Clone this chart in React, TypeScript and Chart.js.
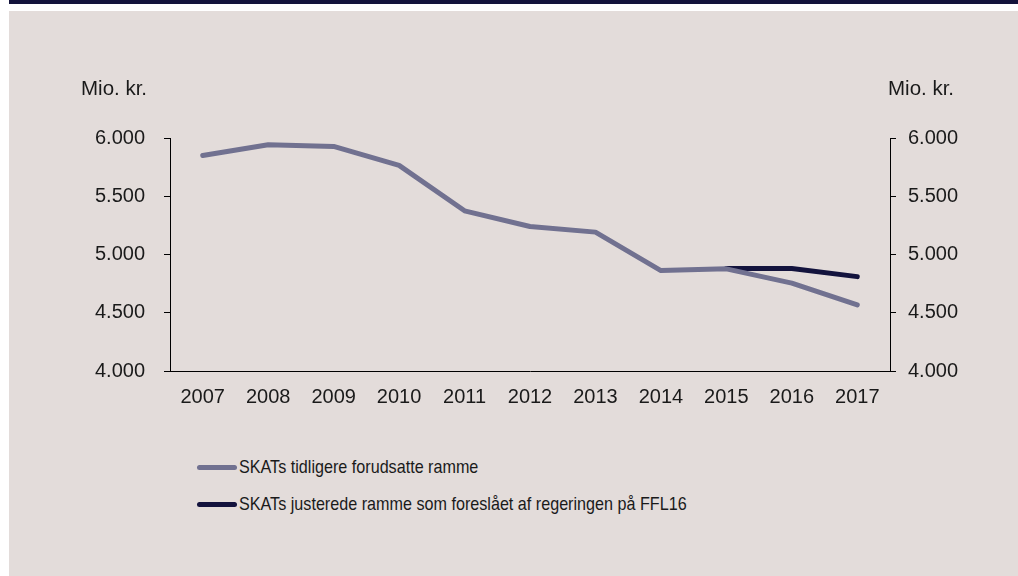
import React, { useEffect, useRef } from "react";
import { Chart, registerables } from "chart.js";

Chart.register(...registerables);

const years = ["2007", "2008", "2009", "2010", "2011", "2012", "2013", "2014", "2015", "2016", "2017"];
const earlierFrame = [5850, 5942, 5928, 5765, 5375, 5240, 5192, 4862, 4877, 4754, 4567];
const adjustedFrame = [null, null, null, null, null, null, null, null, 4880, 4880, 4810];
const seriesLabels = [
  "SKATs tidligere forudsatte ramme",
  "SKATs justerede ramme som foreslået af regeringen på FFL16",
];
const seriesColors = ["#717190", "#13133d"];
const axisMin = 4000;
const axisMax = 6000;
const axisStep = 500;
const unitLabel = "Mio. kr.";

const fmt = (v: number) => {
  const s = Math.round(v).toString();
  return s.replace(/\B(?=(\d{3})+(?!\d))/g, ".");
};

const FONT = "'Liberation Sans', Arial, sans-serif";
const TEXT = "#1a1a1a";

export default function App() {
  const ref = useRef<HTMLCanvasElement | null>(null);

  useEffect(() => {
    if (!ref.current) return;
    const tickFont = { family: FONT, size: 20 };
    const chart = new Chart(ref.current, {
      type: "line",
      data: {
        labels: years,
        datasets: [
          {
            label: seriesLabels[0],
            data: earlierFrame,
            borderColor: seriesColors[0],
            backgroundColor: seriesColors[0],
            borderWidth: 5,
            pointRadius: 0,
            tension: 0,
            borderCapStyle: "round",
            borderJoinStyle: "round",
            yAxisID: "y",
          },
          {
            label: seriesLabels[1],
            data: adjustedFrame,
            borderColor: seriesColors[1],
            backgroundColor: seriesColors[1],
            borderWidth: 5,
            pointRadius: 0,
            tension: 0,
            borderCapStyle: "round",
            borderJoinStyle: "round",
            yAxisID: "y",
          },
        ],
      },
      options: {
        responsive: false,
        animation: false,
        devicePixelRatio: 1,
        layout: { padding: { top: 138, bottom: 0, left: 0, right: 0 } },
        plugins: {
          legend: { display: false },
          tooltip: { enabled: false },
        },
        scales: {
          x: {
            type: "category",
            offset: true,
            grid: { display: false, drawTicks: false },
            border: { display: true, color: "#000", width: 1 },
            ticks: { font: tickFont, color: TEXT, padding: 14, maxRotation: 0, autoSkip: false },
            afterFit: (s: any) => {
              s.height = 49;
            },
          },
          y: {
            position: "left",
            min: axisMin,
            max: axisMax,
            grid: { display: true, drawOnChartArea: false, drawTicks: true, tickLength: 6, color: "#000", tickColor: "#000" },
            border: { display: true, color: "#000", width: 1 },
            ticks: { stepSize: axisStep, font: tickFont, color: TEXT, padding: 19, callback: (v: any) => fmt(Number(v)) },
            afterFit: (s: any) => {
              s.width = 170;
            },
          },
          y1: {
            position: "right",
            min: axisMin,
            max: axisMax,
            grid: { display: true, drawOnChartArea: false, drawTicks: true, tickLength: 6, color: "#000", tickColor: "#000" },
            border: { display: true, color: "#000", width: 1 },
            ticks: { stepSize: axisStep, font: tickFont, color: TEXT, padding: 12, callback: (v: any) => fmt(Number(v)) },
            afterFit: (s: any) => {
              s.width = 128;
            },
          },
        },
      },
    } as any);
    return () => chart.destroy();
  }, []);

  const legendTop = [467, 504];

  return (
    <div style={{ position: "absolute", left: 0, top: 0, width: 1018, height: 576, background: "#fff", overflow: "hidden" }}>
      <div style={{ position: "absolute", left: 9, top: 0, width: 1009, height: 4, background: "#13133b" }} />
      <div style={{ position: "absolute", left: 9, top: 11, width: 1009, height: 565, background: "#e3dcda" }} />
      <canvas ref={ref} width={1018} height={420} style={{ position: "absolute", left: 0, top: 0, width: 1018, height: 420 }} />
      <div style={{ position: "absolute", left: 81, top: 76, font: `20.5px ${FONT}`, color: TEXT, whiteSpace: "nowrap" }}>{unitLabel}</div>
      <div style={{ position: "absolute", left: 888, top: 76, font: `20.5px ${FONT}`, color: TEXT, whiteSpace: "nowrap" }}>{unitLabel}</div>
      {seriesLabels.map((lab, i) => (
        <div key={lab} style={{ position: "absolute", left: 197, top: legendTop[i] - 15, height: 30, display: "flex", alignItems: "center" }}>
          <div style={{ width: 40, height: 5, borderRadius: 2.5, background: seriesColors[i] }} />
          <div
            style={{
              marginLeft: 2,
              font: `19px ${FONT}`,
              color: TEXT,
              whiteSpace: "nowrap",
              transform: "scaleX(0.85)",
              transformOrigin: "left center",
            }}
          >
            {lab}
          </div>
        </div>
      ))}
    </div>
  );
}
